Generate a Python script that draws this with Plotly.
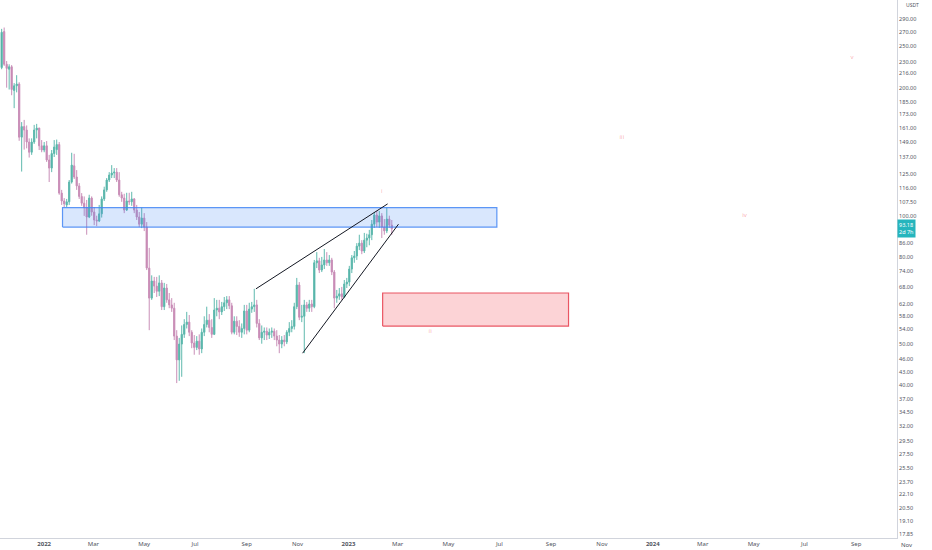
import numpy as np
import pandas as pd
import plotly.graph_objects as go

# Velas de 3 dias (USDT)
apertura = [223, 271, 227, 221, 224, 197, 202, 204, 153, 162, 159, 149, 141, 149, 159, 160.7, 146, 142.7, 146, 135.2,
            129.4, 140, 143, 147, 113, 108.3, 106, 107.8, 120, 131, 123.3, 117.5, 111, 107, 104.5, 99.3, 110, 102, 97.7, 97.2,
            101, 109.5, 115, 121.3, 124.6, 126, 126.6, 121.3, 112, 110, 103.1, 108.3, 107.8, 109.5, 103.1, 99.3, 95.5, 98.7, 94, 75.3,
            64, 70.2, 68.3, 66.4, 69.5, 61.1, 67.6, 63.4, 61.7, 60.6, 52.1, 45.8, 49.9, 52.6, 55.5, 56.2, 53.2, 50.2, 49, 50.7,
            48.6, 53.2, 55.5, 56.8, 54.6, 52.6, 60, 60.6, 59.4, 61.1, 62.4, 63.4, 61.4, 53.2, 56.5, 54.9, 53.2, 54.3, 59.7, 53.8,
            60.3, 61.1, 61.7, 55.8, 51.6, 53.2, 53.5, 52.4, 53.2, 53.5, 52.1, 51, 49.9, 51, 50.5, 53.2, 54.3, 54.9, 61.1, 68.7,
            57.7, 58, 61.7, 60.6, 62, 61.1, 77.5, 78.3, 74.5, 76.6, 78.7, 77.5, 78.7, 73.7, 64, 64.7, 65.5, 64.4, 69.1, 69.8,
            74.9, 79.6, 80.4, 84.8, 86.2, 82.6, 87.6, 88.6, 90.2, 95.5, 100.4, 96.6, 99.9, 94, 92.1, 98.2, 95]
maximo = [275, 277, 231, 227, 226, 205, 214, 206, 166, 168, 163, 152, 152, 163.5, 164.4, 161, 150.6, 149, 149.8, 139,
          142.7, 150.6, 151, 149, 115, 110, 109.5, 121.3, 140.6, 139.8, 128, 119.3, 113, 111, 108.9, 112, 111, 104.8, 100, 106,
          111, 117, 122.6, 126.6, 131.5, 129.4, 129.4, 126.6, 113.8, 112.6, 113.2, 113.2, 113.8, 110, 106, 102, 104.5, 101.4, 96.6, 84,
          72.4, 71.8, 71.8, 72.4, 70.6, 69.5, 69.1, 65.8, 64, 62.4, 53.8, 51.6, 55.2, 57.1, 59.4, 58.4, 53.8, 52.4, 52.1, 52.6,
          54.3, 58, 61.1, 58.7, 57.1, 64, 63.4, 63.4, 62.7, 64.4, 64.7, 64.7, 62.4, 58, 58, 56.8, 55.8, 61.7, 61.7, 62.4,
          62.7, 67.3, 63.4, 57.1, 55.2, 54.6, 54.6, 54.3, 54.6, 54.3, 53.8, 52.4, 52.1, 52.4, 53.8, 56.2, 56.8, 62.4, 71.4, 69.8,
          61.7, 63.4, 62.7, 63.4, 63.4, 78.7, 82.1, 79.6, 80, 83.5, 82.1, 80.8, 79.6, 74.5, 66.9, 67.6, 68, 70.6, 71.4, 76.2,
          80.8, 82.6, 86.2, 90.2, 87.6, 91.1, 90.7, 92.6, 97.7, 102, 102.6, 102.6, 101.4, 98.2, 104.5, 100, 97.7]
minimo = [221, 225, 200, 198, 192, 179, 195, 150, 127, 143, 144, 137, 139, 147.5, 152, 142.7, 141, 141, 133.8, 120,
          126.6, 137.4, 139, 112, 106, 104.8, 104.8, 106, 119, 122, 115, 109.5, 105.5, 99.9, 90.2, 98.7, 100, 95, 94.5, 96.6,
          99, 108.3, 113.8, 120, 122.6, 122.6, 120, 110.8, 107.8, 101.4, 102.6, 106, 105.5, 101.4, 97.7, 94, 93.5, 92, 74.5, 53.8,
          63.4, 65.8, 64.4, 64.7, 60, 60, 62.4, 60.6, 59.4, 51, 40.4, 40.9, 41.8, 51.6, 54.3, 52.1, 48.8, 47.1, 48.3, 47.1,
          47.5, 52.1, 54.6, 53.2, 51.6, 52.4, 58, 57.1, 58.4, 59.7, 60.3, 60.3, 52.6, 52.6, 52.4, 51.9, 51.6, 52.6, 52.6, 53.2,
          59.1, 59.4, 54.6, 51, 50, 51, 51, 51.3, 51.6, 51, 49.3, 47.5, 48.8, 49.3, 49.9, 52.1, 53.2, 54, 60.3, 56.8,
          56.2, 47.5, 59.4, 59.4, 59.4, 60.6, 75.3, 73.3, 73.7, 74.9, 76.2, 76.2, 72.5, 60.6, 62.4, 63.4, 63.4, 64, 67.6, 68.3,
          73.3, 77.5, 78.7, 83, 81.2, 81.7, 84.3, 85.2, 87.6, 93.6, 94, 93.6, 88.6, 90.2, 91, 93.6, 90.2]
cierre = [270, 227, 222, 224, 198, 202, 204, 153, 162, 159, 149, 141, 149, 159, 160.7, 146, 142.7, 146, 135.2, 129.4,
          140, 145, 147, 113, 108.3, 106.6, 107.8, 120, 131.5, 123.3, 117.5, 111, 107, 104.5, 99.3, 110, 102, 97.7, 97.2, 101,
          109.5, 115, 121.3, 124.6, 126, 126.6, 121.3, 112, 110, 103.1, 108.3, 107.8, 109.5, 103.1, 99.3, 95.5, 98.7, 94, 75.3, 64,
          70.2, 68.3, 66.4, 69.5, 61.1, 67.6, 63.4, 61.7, 60.6, 52.1, 45.8, 49.9, 52.6, 55.5, 56.2, 53.2, 50.2, 49, 50.7, 48.6,
          53.2, 55.5, 56.8, 54.6, 52.6, 60, 60.6, 59.4, 61.1, 62.4, 63.4, 61.4, 53.2, 56.5, 54.9, 53.2, 54.3, 59.7, 53.8, 60.3,
          61.1, 61.7, 55.8, 51.6, 53.2, 53.5, 52.4, 53.2, 53.5, 52.1, 51, 49.9, 51, 50.5, 53.2, 54.3, 54.9, 61.1, 68.7, 57.7,
          58, 61.7, 60.6, 62, 61.1, 77.5, 78.3, 74.5, 76.6, 78.7, 77.5, 78.7, 73.7, 64, 64.7, 65.5, 64.4, 69.1, 69.8, 74.9,
          79.6, 80.4, 84.8, 86.2, 82.6, 87.6, 88.6, 90.2, 95.5, 100.4, 96.6, 99.9, 94, 92.1, 98.2, 95, 93.18]
fechas = pd.date_range("2021-11-11", periods=len(apertura), freq="3D")

# Zonas, cuña y etiquetas de onda
zona_azul_x = ["2022-01-23", "2023-06-28"]
zona_azul_y = [94.0, 104.5]
zona_roja_x = ["2023-02-11", "2023-09-22"]
zona_roja_y = [55.0, 65.8]
cuna_sup_x = ["2022-09-12", "2023-02-17"]
cuna_sup_y = [67.3, 106.6]
cuna_inf_x = ["2022-11-07", "2023-03-02"]
cuna_inf_y = [47.5, 95.5]
ondas_txt = ["i", "ii", "iii", "iv", "v"]
ondas_x = ["2023-02-10", "2023-04-09", "2023-11-25", "2024-04-20", "2024-08-27"]
ondas_y = [114, 53.5, 153, 100, 235]

# Eje de precios
ticks_y = [290, 270, 250, 230, 216, 200, 185, 173, 161, 149, 137, 125, 116, 107.5, 100, 86, 80, 74, 68, 62,
           58, 54, 50, 46, 43, 40, 37, 34.5, 32, 29.5, 27.5, 25.5, 23.7, 22.1, 20.5, 19.1, 17.85]
ticks_x = ["2022-01-01", "2022-03-01", "2022-05-01", "2022-07-01", "2022-09-01", "2022-11-01",
           "2023-01-01", "2023-03-01", "2023-05-01", "2023-07-01", "2023-09-01", "2023-11-01",
           "2024-01-01", "2024-03-01", "2024-05-01", "2024-07-01", "2024-09-01"]
textos_x = ["<b>2022</b>", "Mar", "May", "Jul", "Sep", "Nov", "<b>2023</b>", "Mar", "May", "Jul", "Sep", "Nov",
            "<b>2024</b>", "Mar", "May", "Jul", "Sep"]
ultimo = 93.18

fig = go.Figure()

def caja(xs, ys, borde, relleno):
    fig.add_trace(go.Scatter(
        x=[xs[0], xs[1], xs[1], xs[0], xs[0]], y=[ys[0], ys[0], ys[1], ys[1], ys[0]],
        mode="lines", fill="toself", fillcolor=relleno,
        line=dict(color=borde, width=1.2), hoverinfo="skip", showlegend=False
    ))

caja(zona_azul_x, zona_azul_y, "rgba(66,133,244,0.85)", "rgba(66,133,244,0.2)")
caja(zona_roja_x, zona_roja_y, "rgba(230,60,75,0.85)", "rgba(242,54,69,0.22)")

fig.add_trace(go.Candlestick(
    x=fechas, open=apertura, high=maximo, low=minimo, close=cierre,
    increasing=dict(line=dict(color="#5fb9ae", width=1), fillcolor="#3aa89c"),
    decreasing=dict(line=dict(color="#c98fb8", width=1), fillcolor="#c47aab"),
    whiskerwidth=0, showlegend=False
))

for xs, ys in [(cuna_sup_x, cuna_sup_y), (cuna_inf_x, cuna_inf_y)]:
    fig.add_trace(go.Scatter(x=xs, y=ys, mode="lines", line=dict(color="#131722", width=1),
                             hoverinfo="skip", showlegend=False))

fig.add_trace(go.Scatter(
    x=ondas_x, y=ondas_y, mode="text", text=ondas_txt,
    textfont=dict(size=6, color="rgba(242,54,69,0.45)", family="Noto Sans"),
    hoverinfo="skip", showlegend=False
))

fig.update_layout(
    width=932, height=550,
    margin=dict(l=0, r=35, t=0, b=12, autoexpand=False),
    paper_bgcolor="white", plot_bgcolor="white",
    font=dict(family="Noto Sans, Arial", size=6, color="#50535e"),
    xaxis=dict(
        type="date", range=["2021-11-09", "2024-10-20"], automargin=False,
        tickvals=ticks_x, ticktext=textos_x, ticks="", showgrid=False,
        zeroline=False, rangeslider=dict(visible=False),
        showline=True, linecolor="#d1d4dc", linewidth=1,
        tickfont=dict(size=6, color="#50535e")
    ),
    yaxis=dict(
        type="log", side="right", range=[1.2421, 2.5072], automargin=False,
        tickvals=ticks_y, ticktext=[f"{v:.2f}" for v in ticks_y], ticks="",
        showgrid=False, zeroline=False, showline=True, linecolor="#d1d4dc", linewidth=1,
        tickfont=dict(size=5.5, color="#50535e")
    )
)

# Etiqueta de precio actual
fig.add_annotation(
    xref="paper", yref="y", x=1.0, y=np.log10(ultimo), xanchor="left", yanchor="middle",
    text=f"{ultimo:.2f}<br>2d 7h", showarrow=False, align="left",
    bgcolor="#26b5bd", font=dict(color="white", size=5.5), borderpad=1
)
fig.add_annotation(
    xref="paper", yref="paper", x=1.008, y=1.0, xanchor="left", yanchor="top",
    text="USDT", showarrow=False, font=dict(size=5, color="#50535e")
)
fig.add_annotation(
    xref="paper", yref="paper", x=1.011, y=-0.013, xanchor="center", yanchor="middle",
    text="Nov", showarrow=False, font=dict(size=6, color="#50535e")
)

# sin margen del body para que la figura ocupe toda la ventana
fig.write_html("out.html", config={"displayModeBar": False},
               post_script="document.body.style.margin='0';document.body.style.overflow='hidden';")
